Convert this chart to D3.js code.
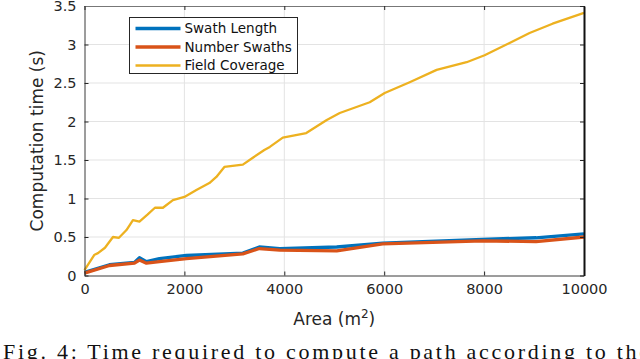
<!DOCTYPE html>
<html>
<head>
<meta charset="utf-8">
<script src="https://cdn.jsdelivr.net/npm/d3@7"></script>
<style>
  body { margin: 0; background: #fff; }
  svg { display: block; }
</style>
</head>
<body>
<div id="canvas"></div>
<script>
// values
const areaFC = [0, 200, 270, 410, 570, 690, 840, 970, 1100, 1260, 1410, 1570, 1770, 2000, 2240, 2500, 2640, 2800, 3170, 3370, 3600, 3710, 3970, 4440, 4850, 5110, 5710, 6010, 6510, 7050, 7650, 8010, 8510, 8910, 9370, 10000];
const timeFC = [0.07, 0.27, 0.29, 0.36, 0.50, 0.49, 0.59, 0.72, 0.70, 0.79, 0.88, 0.88, 0.98, 1.02, 1.11, 1.20, 1.28, 1.41, 1.44, 1.53, 1.63, 1.67, 1.79, 1.85, 2.02, 2.11, 2.25, 2.37, 2.51, 2.67, 2.77, 2.86, 3.02, 3.15, 3.27, 3.41];

const areaSw = [0, 500, 1000, 1100, 1240, 1500, 2040, 3170, 3500, 3910, 5050, 5970, 7970, 9040, 10000];
const timeSwathLength = [0.04, 0.14, 0.17, 0.23, 0.18, 0.22, 0.26, 0.29, 0.37, 0.35, 0.37, 0.42, 0.47, 0.49, 0.54];
const timeNumSwaths = [0.03, 0.13, 0.16, 0.20, 0.16, 0.18, 0.22, 0.28, 0.35, 0.33, 0.32, 0.41, 0.45, 0.44, 0.50];

const xTicks = [0, 2000, 4000, 6000, 8000, 10000];
const yTicks = [0, 0.5, 1, 1.5, 2, 2.5, 3, 3.5];

const seriesNames = ['Swath Length', 'Number Swaths', 'Field Coverage'];
const seriesColors = ['#0072BD', '#D95319', '#EDB120'];

const W = 640, H = 359;
const pLeft = 84.5, pRight = 584, pTop = 6, pBottom = 275.5;
const font = '"DejaVu Sans", sans-serif';

const svg = d3.select('#canvas').append('svg')
  .attr('width', W)
  .attr('height', H);

const x = d3.scaleLinear().domain([0, 10000]).range([pLeft, pRight]);
const y = d3.scaleLinear().domain([0, 3.5]).range([pBottom, pTop]);

// grid
svg.append('g').selectAll('line')
  .data(xTicks.slice(1, -1))
  .join('line')
  .attr('x1', d => x(d)).attr('x2', d => x(d))
  .attr('y1', pTop).attr('y2', pBottom)
  .attr('stroke', '#e3e3e3').attr('stroke-width', 1);
svg.append('g').selectAll('line')
  .data(yTicks.slice(1, -1))
  .join('line')
  .attr('x1', pLeft).attr('x2', pRight)
  .attr('y1', d => y(d)).attr('y2', d => y(d))
  .attr('stroke', '#e3e3e3').attr('stroke-width', 1);

// series
const series = [
  { xs: areaSw, ys: timeSwathLength, w: 3.3 },
  { xs: areaSw, ys: timeNumSwaths, w: 3.3 },
  { xs: areaFC, ys: timeFC, w: 2.3 }
];
const line = d3.line().x(d => x(d[0])).y(d => y(d[1]));
series.forEach((s, i) => {
  svg.append('path')
    .datum(s.xs.map((a, k) => [a, s.ys[k]]))
    .attr('d', line)
    .attr('fill', 'none')
    .attr('stroke', seriesColors[i])
    .attr('stroke-width', s.w)
    .attr('stroke-linejoin', 'round');
});

// axes with inward ticks
const xAxis = d3.axisBottom(x).tickValues(xTicks).tickSize(-4).tickPadding(11).tickSizeOuter(0).tickFormat(d3.format('d'));
const yAxis = d3.axisLeft(y).tickValues(yTicks).tickSize(-4).tickPadding(8).tickSizeOuter(0).tickFormat(d => d);

const gx = svg.append('g').attr('transform', `translate(0,${pBottom})`).call(xAxis);
const gy = svg.append('g').attr('transform', `translate(${pLeft},0)`).call(yAxis);
[gx, gy].forEach(g => {
  g.select('.domain').attr('stroke', '#3a3a3a');
  g.selectAll('.tick line').attr('stroke', '#262626');
  g.selectAll('.tick text').attr('fill', '#262626').style('font-family', font).style('font-size', '14.5px');
});
gx.selectAll('.tick text').attr('dy', '0.55em');

// top and right edges of the box
svg.append('g').attr('transform', `translate(0,${pTop})`)
  .call(d3.axisTop(x).tickValues(xTicks).tickSize(-4).tickFormat('').tickSizeOuter(0))
  .call(g => g.select('.domain').attr('stroke', '#777'))
  .call(g => g.selectAll('.tick line').attr('stroke', '#262626'));
svg.append('g').attr('transform', `translate(${pRight},0)`)
  .call(d3.axisRight(y).tickValues(yTicks).tickSize(-4).tickFormat('').tickSizeOuter(0))
  .call(g => g.select('.domain').attr('stroke', '#111').attr('stroke-width', 2))
  .call(g => g.selectAll('.tick line').attr('stroke', '#262626'));

// axis labels
svg.append('text')
  .attr('transform', `translate(43,${(pTop + pBottom) / 2}) rotate(-90)`)
  .attr('text-anchor', 'middle')
  .style('font-family', font).style('font-size', '17px').attr('fill', '#262626')
  .text('Computation time (s)');

const xl = svg.append('text')
  .attr('x', (pLeft + pRight) / 2).attr('y', 325)
  .attr('text-anchor', 'middle')
  .style('font-family', font).style('font-size', '17px').attr('fill', '#262626');
xl.append('tspan').text('Area (m');
xl.append('tspan').attr('dy', -7).style('font-size', '12px').text('2');
xl.append('tspan').attr('dy', 7).text(')');

// legend
const lg = svg.append('g').attr('transform', 'translate(129.5,17.5)');
lg.append('rect')
  .attr('width', 168).attr('height', 56)
  .attr('fill', '#fff').attr('stroke', '#262626').attr('stroke-width', 1);
seriesNames.forEach((name, i) => {
  const yy = 11 + i * 18.5;
  lg.append('line')
    .attr('x1', 6).attr('x2', 51).attr('y1', yy).attr('y2', yy)
    .attr('stroke', seriesColors[i]).attr('stroke-width', series[i].w);
  lg.append('text')
    .attr('x', 55).attr('y', yy).attr('dy', '0.35em')
    .style('font-family', font).style('font-size', '13.5px').attr('fill', '#111')
    .text(name);
});

// caption (cut off by the bottom edge, as in the source page)
svg.append('text')
  .attr('x', 3).attr('y', 359)
  .attr('textLength', 646).attr('lengthAdjust', 'spacing')
  .style('font-family', '"Liberation Serif", "DejaVu Serif", serif').style('font-size', '22px').attr('fill', '#111')
  .text('Fig. 4: Time required to compute a path according to the');
</script>
</body>
</html>
